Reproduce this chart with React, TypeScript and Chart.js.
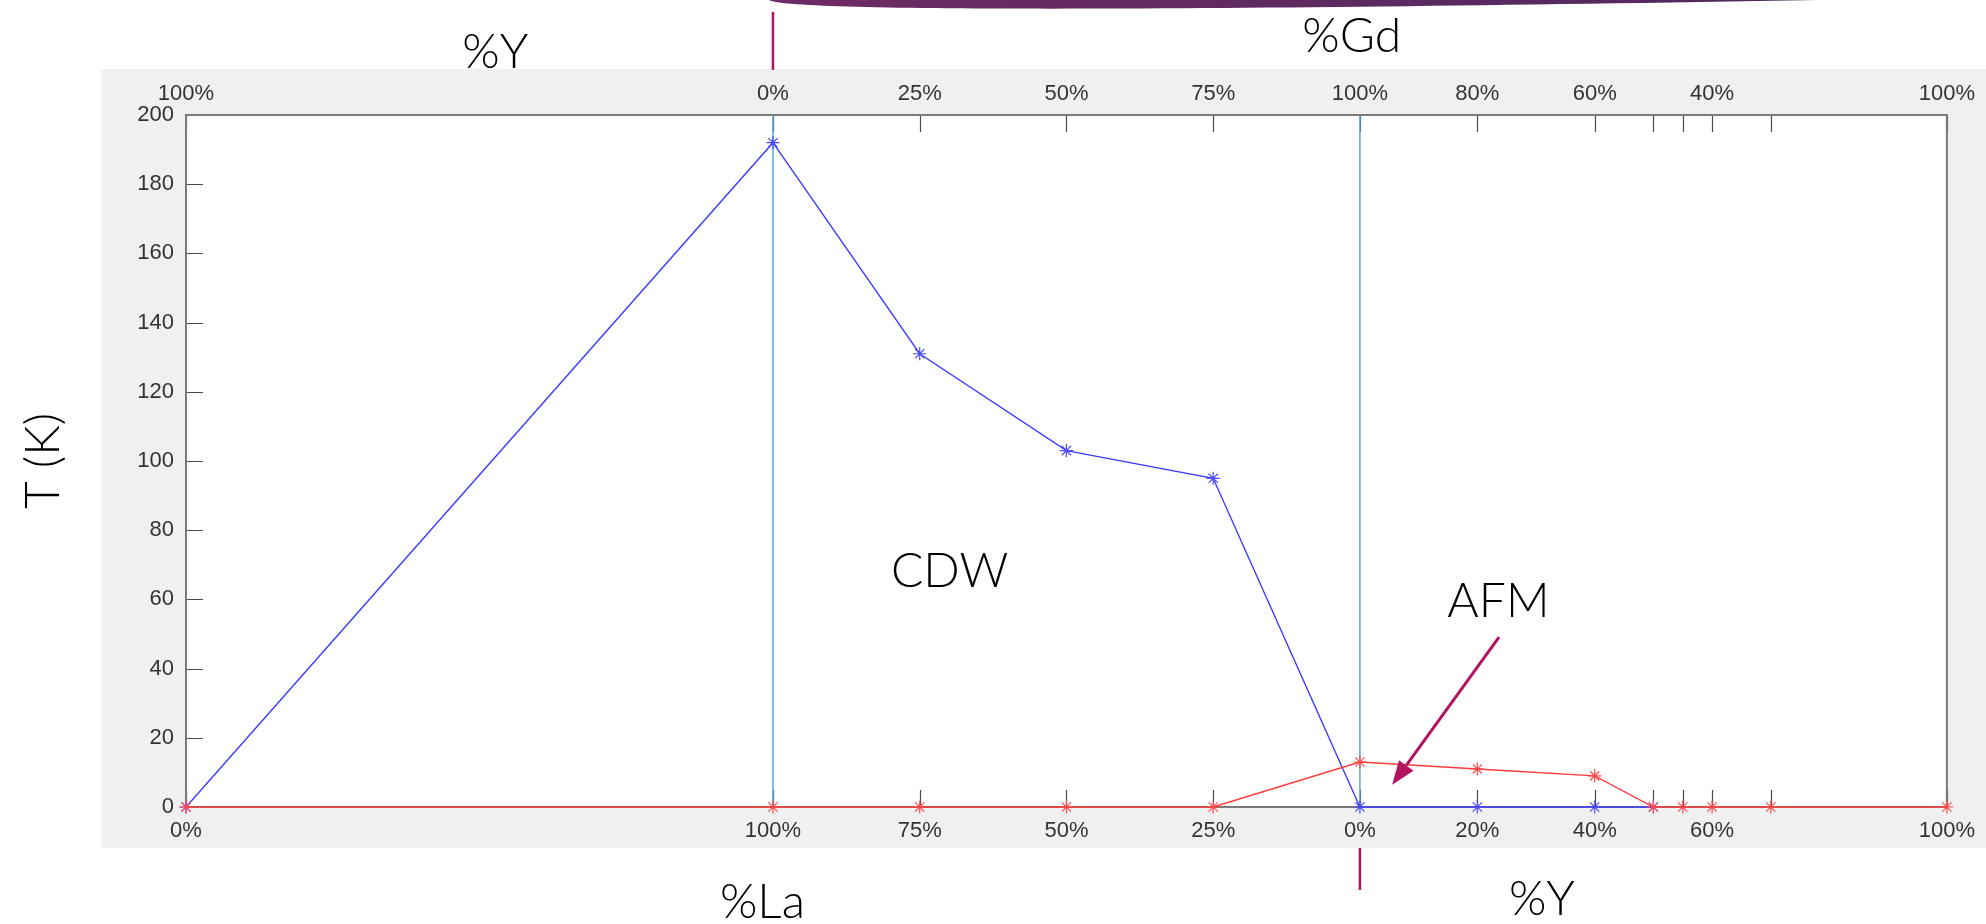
import { useEffect, useRef } from "react";
import { Chart, registerables } from "chart.js";

Chart.register(...registerables);

// Joined composition axis: 0–100 (La0.. side), 100–200 (La → Gd), 200–300 (Gd → Y)
const compositionTicks = [0, 100, 125, 150, 175, 200, 220, 240, 250, 255, 260, 270, 300];
const bottomTickLabels = ["0%", "100%", "75%", "50%", "25%", "0%", "20%", "40%", "", "", "60%", "", "100%"];
const topTickLabels = ["100%", "0%", "25%", "50%", "75%", "100%", "80%", "60%", "", "", "40%", "", "100%"];

// Transition temperatures (K)
const cdwPositions = [0, 100, 125, 150, 175, 200, 220, 240, 250];
const cdwTemps = [0, 192, 131, 103, 95, 0, 0, 0, 0];
const afmPositions = [0, 100, 125, 150, 175, 200, 220, 240, 250, 255, 260, 270, 300];
const afmTemps = [0, 0, 0, 0, 0, 13, 11, 9, 0, 0, 0, 0, 0];

// End-member compositions marked with vertical lines
const phaseBoundaries = [100, 200];

const TICK_FONT = { family: "'Liberation Sans', Arial, sans-serif", size: 22 };
const LABEL_FAMILY = "Lato, 'Noto Sans', sans-serif";
const LABEL_FONT = `300 48px ${LABEL_FAMILY}`;
const ACCENT = "#b3135f";

const labelFor = (labels: string[]) => (value: number | string) => {
  const i = compositionTicks.indexOf(Number(value));
  return i >= 0 ? labels[i] : "";
};

const decorPlugin = {
  id: "decor",
  beforeDraw(chart: any) {
    const { ctx, chartArea: a, width, scales } = chart;
    const xs = scales.x;
    ctx.save();
    // figure panel
    ctx.fillStyle = "#f0f0f0";
    ctx.fillRect(a.left - 85, a.top - 46, width - (a.left - 85), a.bottom - a.top + 46 + 41);
    ctx.fillStyle = "#ffffff";
    ctx.fillRect(a.left, a.top, a.right - a.left, a.bottom - a.top);
    // banner edge at the top of the page
    const bx0 = xs.getPixelForValue(100) - 4;
    const bx1 = xs.getPixelForValue(278);
    const g = ctx.createLinearGradient(bx0, 0, bx1, 0);
    g.addColorStop(0, "#6e2a64");
    g.addColorStop(1, "#4e2a5e");
    ctx.fillStyle = g;
    ctx.beginPath();
    ctx.moveTo(bx0, 0);
    ctx.bezierCurveTo(bx0 + 15, 12, bx0 + 420, 11, bx1, 0);
    ctx.closePath();
    ctx.fill();
    ctx.restore();
  },
  beforeDatasetsDraw(chart: any) {
    const { ctx, chartArea: a, scales } = chart;
    const xs = scales.x;
    const ys = scales.y;
    const len = 17;
    ctx.save();
    ctx.strokeStyle = "#4a4a4a";
    ctx.lineWidth = 1.2;
    ctx.beginPath();
    for (const t of xs.ticks) {
      const px = Math.round(xs.getPixelForValue(t.value)) + 0.5;
      ctx.moveTo(px, a.bottom);
      ctx.lineTo(px, a.bottom - len);
      ctx.moveTo(px, a.top);
      ctx.lineTo(px, a.top + len);
    }
    for (const t of ys.ticks) {
      const py = Math.round(ys.getPixelForValue(t.value)) + 0.5;
      ctx.moveTo(a.left, py);
      ctx.lineTo(a.left + len, py);
    }
    ctx.stroke();
    ctx.strokeStyle = "#7a7a7a";
    ctx.lineWidth = 2;
    ctx.strokeRect(a.left, a.top, a.right - a.left, a.bottom - a.top);
    ctx.restore();
  },
  afterDraw(chart: any) {
    const { ctx, chartArea: a, scales } = chart;
    const xs = scales.x;
    const ys = scales.y;
    ctx.save();
    ctx.fillStyle = "#000000";
    ctx.font = LABEL_FONT;
    ctx.textAlign = "center";
    ctx.textBaseline = "alphabetic";
    ctx.fillText("%Y", xs.getPixelForValue(52.7), a.top - 47);
    ctx.fillText("%Gd", xs.getPixelForValue(198.6), a.top - 63);
    ctx.fillText("%La", xs.getPixelForValue(98.2), a.bottom + 111);
    ctx.fillText("%Y", xs.getPixelForValue(231), a.bottom + 108);
    ctx.fillText("CDW", xs.getPixelForValue(130.1), ys.getPixelForValue(63.7));
    ctx.fillText("AFM", xs.getPixelForValue(223.6), ys.getPixelForValue(55));

    // composition markers above and below the axes
    ctx.strokeStyle = ACCENT;
    ctx.lineWidth = 2.5;
    ctx.beginPath();
    const p100 = xs.getPixelForValue(100);
    const p200 = xs.getPixelForValue(200);
    ctx.moveTo(p100, a.top - 103);
    ctx.lineTo(p100, a.top - 45);
    ctx.moveTo(p200, a.bottom + 41);
    ctx.lineTo(p200, a.bottom + 83);
    ctx.stroke();

    // arrow pointing at the AFM dome
    const x0 = xs.getPixelForValue(223.7);
    const y0 = ys.getPixelForValue(49.1);
    const x1 = xs.getPixelForValue(205.5);
    const y1 = ys.getPixelForValue(6.4);
    const ang = Math.atan2(y1 - y0, x1 - x0);
    const head = 24;
    const half = 9;
    const bx = x1 - head * Math.cos(ang);
    const by = y1 - head * Math.sin(ang);
    ctx.lineWidth = 3;
    ctx.beginPath();
    ctx.moveTo(x0, y0);
    ctx.lineTo(bx, by);
    ctx.stroke();
    ctx.fillStyle = ACCENT;
    ctx.beginPath();
    ctx.moveTo(x1, y1);
    ctx.lineTo(bx + half * Math.sin(ang), by - half * Math.cos(ang));
    ctx.lineTo(bx - half * Math.sin(ang), by + half * Math.cos(ang));
    ctx.closePath();
    ctx.fill();
    ctx.restore();
  },
};

export default function App() {
  const canvasRef = useRef<HTMLCanvasElement | null>(null);

  useEffect(() => {
    const canvas = canvasRef.current;
    if (!canvas) return;

    const boundarySets = phaseBoundaries.map((x) => ({
      label: `boundary ${x}`,
      data: [
        { x, y: 0 },
        { x, y: 200 },
      ],
      borderColor: "#5aa5db",
      borderWidth: 1.5,
      pointRadius: 0,
      clip: false as const,
    }));

    const chart = new Chart(canvas, {
      type: "line",
      data: {
        datasets: [
          {
            label: "AFM",
            data: afmPositions.map((x, i) => ({ x, y: afmTemps[i] })),
            borderColor: "#ff3b3b",
            borderWidth: 1.4,
            pointStyle: "star",
            pointRadius: 6.5,
            pointBorderColor: "#ff4a4a",
            pointBorderWidth: 1.2,
            pointBackgroundColor: "#ff4a4a",
            tension: 0,
            clip: false as const,
          },
          {
            label: "CDW",
            data: cdwPositions.map((x, i) => ({ x, y: cdwTemps[i] })),
            borderColor: "#3d3dff",
            borderWidth: 1.4,
            pointStyle: "star",
            pointRadius: 6.5,
            pointBorderColor: "#4a4aff",
            pointBorderWidth: 1.2,
            pointBackgroundColor: "#4a4aff",
            tension: 0,
            clip: false as const,
          },
          ...boundarySets,
        ],
      },
      options: {
        responsive: false,
        animation: false,
        events: [],
        layout: { padding: { left: 0, top: 0, right: 34, bottom: 0 } },
        plugins: {
          legend: { display: false },
          tooltip: { enabled: false },
        },
        scales: {
          x: {
            type: "linear",
            position: "bottom",
            min: 0,
            max: 300,
            afterBuildTicks: (s: any) => {
              s.ticks = compositionTicks.map((value) => ({ value }));
            },
            afterFit: (s: any) => {
              s.height = 117;
            },
            ticks: {
              autoSkip: false,
              maxRotation: 0,
              padding: 11,
              color: "#333333",
              font: TICK_FONT,
              callback: labelFor(bottomTickLabels),
            },
            grid: { display: false, drawTicks: false },
            border: { display: false },
          },
          x2: {
            type: "linear",
            position: "top",
            min: 0,
            max: 300,
            afterBuildTicks: (s: any) => {
              s.ticks = compositionTicks.map((value) => ({ value }));
            },
            afterFit: (s: any) => {
              s.height = 115;
            },
            ticks: {
              autoSkip: false,
              maxRotation: 0,
              padding: 8,
              color: "#333333",
              font: TICK_FONT,
              callback: labelFor(topTickLabels),
            },
            grid: { display: false, drawTicks: false },
            border: { display: false },
          },
          y: {
            type: "linear",
            min: 0,
            max: 200,
            afterFit: (s: any) => {
              s.width = 186;
            },
            ticks: {
              stepSize: 20,
              padding: 12,
              color: "#333333",
              font: TICK_FONT,
            },
            title: {
              display: true,
              text: "T (K)",
              color: "#000000",
              font: { family: LABEL_FAMILY, size: 48, weight: 300 },
              padding: { top: 15, bottom: 0 },
            },
            grid: { display: false, drawTicks: false },
            border: { display: false },
          },
        },
      },
      plugins: [decorPlugin],
    });

    return () => chart.destroy();
  }, []);

  return (
    <div style={{ position: "absolute", left: 0, top: 0, width: 1986, height: 924, background: "#ffffff" }}>
      <canvas ref={canvasRef} width={1986} height={924} style={{ width: 1986, height: 924, display: "block" }} />
    </div>
  );
}
